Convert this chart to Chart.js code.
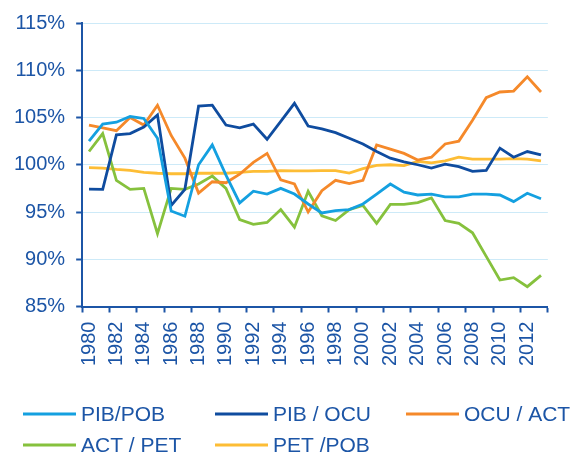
<!DOCTYPE html>
<html>
<head>
<meta charset="utf-8">
<style>
  html, body { margin: 0; padding: 0; background: #fff; }
  #wrap { width: 574px; height: 455px; }
</style>
<script src="https://cdn.jsdelivr.net/npm/chart.js@4/dist/chart.umd.min.js"></script>
</head>
<body>
<div id="wrap"><canvas id="chart"></canvas></div>
<script>
// años 1980-2013
const years = ["1980","1981","1982","1983","1984","1985","1986","1987","1988","1989",
  "1990","1991","1992","1993","1994","1995","1996","1997","1998","1999",
  "2000","2001","2002","2003","2004","2005","2006","2007","2008","2009",
  "2010","2011","2012","2013"];

const pibPob = [102.5,104.3,104.5,105.1,104.9,102.8,95.1,94.55,100.0,102.1,
  98.9,95.96,97.2,96.9,97.5,96.9,95.85,94.9,95.15,95.25,
  95.85,96.9,97.96,97.1,96.8,96.9,96.6,96.6,96.9,96.9,
  96.8,96.1,96.98,96.4];

const pibOcu = [97.43,97.4,103.16,103.3,104.0,105.27,95.7,97.4,106.2,106.3,
  104.2,103.9,104.3,102.7,104.6,106.5,104.1,103.8,103.4,102.8,
  102.2,101.4,100.7,100.3,100.0,99.65,100.07,99.8,99.3,99.4,
  101.76,100.8,101.4,101.05];

const ocuAct = [104.2,103.9,103.6,105.0,104.2,106.3,103.1,100.7,97.0,98.2,
  98.1,99.0,100.25,101.2,98.4,97.96,95.0,97.26,98.35,98.0,
  98.35,102.1,101.65,101.2,100.5,100.8,102.2,102.5,104.7,107.1,
  107.7,107.8,109.3,107.7];

const actPet = [101.4,103.3,98.35,97.4,97.5,92.7,97.5,97.4,97.96,98.8,
  97.5,94.2,93.7,93.9,95.26,93.4,97.2,94.6,94.1,95.26,
  95.7,93.8,95.8,95.8,96.0,96.5,94.1,93.8,92.8,90.3,
  87.8,88.05,87.1,88.3];

const petPob = [99.7,99.65,99.5,99.4,99.2,99.1,99.05,99.05,99.1,99.1,
  99.1,99.2,99.3,99.3,99.37,99.35,99.35,99.37,99.37,99.12,
  99.58,99.93,100.0,99.9,100.35,100.2,100.4,100.8,100.6,100.6,
  100.6,100.65,100.6,100.4];

const seriesNames = ["PIB/POB", "PIB / OCU", "OCU / ACT", "ACT / PET", "PET /POB"];
const seriesColors = ["#14a0e0", "#0f4c9f", "#f5892a", "#86c13d", "#fdbd35"];

const azul = "#1c55a6";
const fuente = "'Liberation Sans', Arial, sans-serif";

// leyenda en cuadrícula de 3 columnas
const gridLegend = {
  id: "gridLegend",
  afterDraw(chart) {
    const ctx = chart.ctx;
    const colX = [23, 215, 406];
    const rowY = [414, 445];
    ctx.save();
    ctx.font = "21px " + fuente;
    ctx.textBaseline = "middle";
    chart.data.datasets.forEach((ds, i) => {
      const x = colX[i % 3];
      const y = rowY[Math.floor(i / 3)];
      ctx.strokeStyle = ds.borderColor;
      ctx.lineWidth = 3;
      ctx.beginPath();
      ctx.moveTo(x, y);
      ctx.lineTo(x + 53, y);
      ctx.stroke();
      ctx.fillStyle = azul;
      ctx.fillText(ds.label, x + 58, y + 1);
    });
    ctx.restore();
  }
};

const allSeries = [pibPob, pibOcu, ocuAct, actPet, petPob];

new Chart(document.getElementById("chart"), {
  type: "line",
  data: {
    labels: years,
    datasets: allSeries.map((vals, i) => ({
      label: seriesNames[i],
      data: vals,
      borderColor: seriesColors[i],
      backgroundColor: seriesColors[i],
      borderWidth: 2.8,
      pointRadius: 0,
      tension: 0,
    })),
  },
  options: {
    responsive: true,
    maintainAspectRatio: false,
    animation: false,
    layout: { padding: { top: 5, left: 3, right: -22, bottom: 80 } },
    plugins: {
      legend: { display: false },
      tooltip: { enabled: false },
    },
    scales: {
      x: {
        offset: true,
        grid: {
          offset: true,
          drawOnChartArea: false,
          tickLength: 6,
          tickWidth: 2,
          tickColor: (c) => (c.index % 2 ? "rgba(0,0,0,0)" : azul),
        },
        border: { color: azul, width: 2 },
        ticks: {
          autoSkip: false,
          maxRotation: 90,
          minRotation: 90,
          padding: 9,
          color: azul,
          font: { family: fuente, size: 20 },
          callback: (v, i) => (i % 2 ? "" : years[i]),
        },
      },
      y: {
        min: 85,
        max: 115,
        grid: {
          color: "#cdeaf8",
          lineWidth: 1,
          tickLength: 6,
          tickWidth: 2,
          tickColor: azul,
        },
        border: { color: azul, width: 2 },
        ticks: {
          stepSize: 5,
          padding: 11,
          color: azul,
          font: { family: fuente, size: 20 },
          callback: (v) => v + "%",
        },
      },
    },
  },
  plugins: [gridLegend],
});
</script>
</body>
</html>
